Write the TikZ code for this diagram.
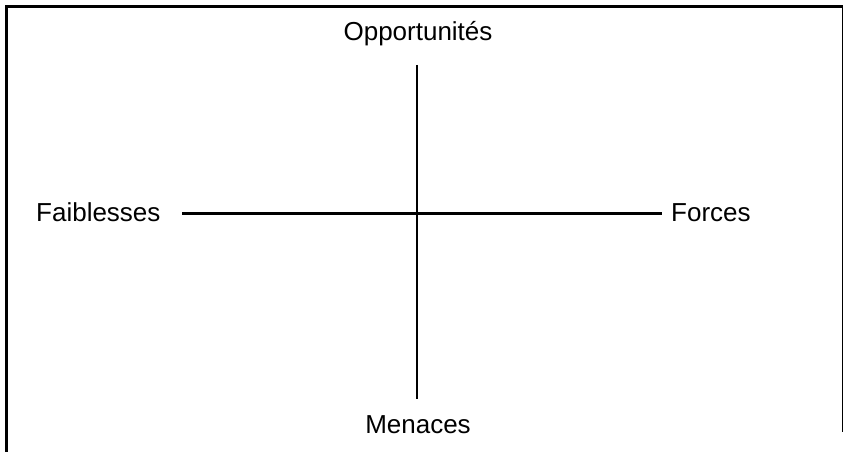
\documentclass[tikz,border=0pt]{standalone}
\usepackage{fontspec}
\setmainfont{Liberation Sans}
\begin{document}
\begin{tikzpicture}[x=1pt,y=-1pt,
  lbl/.style={inner sep=0pt,font=\fontsize{26}{31}\selectfont},
  axis/.style={line width=2.2pt,line cap=butt},
  frame/.style={line width=2.4pt}]
\useasboundingbox (0,0) rectangle (843,452);
% frame
\coordinate (ftl) at (6.3,6.5);
\coordinate (fbl) at (6.3,452);
\coordinate (ftr) at (843,6.5);
\coordinate (fr1) at (842.3,6.5);
\coordinate (fr2) at (842.3,432);
\draw[frame] (fbl) -- (ftl) -- (ftr);
\draw[line width=1.6pt] (fr1) -- (fr2);
% labels
\node[lbl,anchor=base] (opp) at (418,41) {Opportunités};
\node[lbl,anchor=base] (men) at (418,433) {Menaces};
\node[lbl,anchor=base west] (fai) at (36,221) {Faiblesses};
\node[lbl,anchor=base west] (for) at (671,221) {Forces};
% axes
\coordinate (vt) at (417,65);
\coordinate (vb) at (417,399);
\coordinate (hl) at (182,213.5);
\coordinate (hr) at (662,213.5);
\draw[axis] (vt) -- (vb);
\draw[axis] (hl) -- (hr);
\end{tikzpicture}
\end{document}
